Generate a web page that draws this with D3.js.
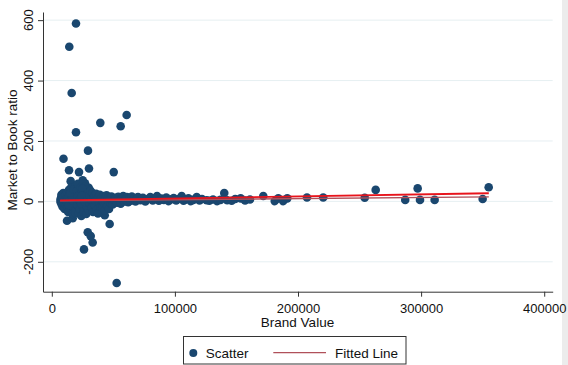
<!DOCTYPE html>
<html>
<head>
<meta charset="utf-8">
<script src="https://cdn.jsdelivr.net/npm/d3@7"></script>
<style>
  html, body { margin: 0; padding: 0; background: #fff; }
  svg { display: block; font-family: "Liberation Sans", Arial, Helvetica, sans-serif; }
</style>
</head>
<body>
<svg id="chart" width="568" height="365"></svg>
<script>
// ---------------- data ----------------
const brandValue = [
  // outliers
  19650, 14200, 16150, 19650, 39400, 55950, 60800, 29400, 9500, 14000, 22100, 30200, 50300, 15350, 25100,
  12350, 29200, 33200, 31600, 26150, 47000, 43000, 52700, 17000, 23500, 27000, 30000, 20000,
  // 7k-12k
  7000, 7200, 7500, 7800, 8000, 8200, 8500, 8800, 9000, 9300, 9600, 10000, 10400, 10800, 11200, 11600, 12000,
  // 12k-20k
  12500, 12800, 13000, 13300, 13600, 14000, 14300, 14600, 15000, 15300, 15600, 16000, 16400, 16800, 17200, 17600,
  18000, 18400, 18800, 19200, 19600, 20000, 12200, 13800, 15200, 16600, 17800, 19000,
  // 20k-30k
  20400, 20800, 21200, 21600, 22000, 22400, 22800, 23200, 23600, 24000, 24400, 24800, 25200, 25600, 26000, 26400,
  26800, 27200, 27600, 28000, 28400, 28800, 29200, 29600, 30000, 21000, 22600, 23800, 25000, 26600, 28200, 29400,
  24200, 27000,
  // 30k-40k
  30500, 31000, 31500, 32000, 32500, 33000, 33500, 34000, 34500, 35000, 35500, 36000, 36500, 37000, 37500, 38000,
  38500, 39000, 39500, 40000,
  // 40k-50k
  40500, 41000, 41500, 42000, 42500, 43000, 43500, 44000, 44500, 45000, 45500, 46000, 46500, 47000, 47500, 48000,
  48500, 49000, 49500, 50000,
  // 50k-70k
  51000, 52000, 53000, 54000, 55000, 56000, 57000, 58000, 59000, 60000, 61000, 62000, 63000, 64000, 65000, 66000,
  67000, 68000, 69000, 70000,
  // 70k-165k
  72000, 74000, 76000, 78000, 80000, 82000, 84000, 85500, 87000, 89000, 91000, 93000, 95000, 97000, 99000, 101000,
  103000, 105500, 107000, 109000, 111000, 113000, 115000, 117700, 120000, 122000, 125800, 128000, 131000, 134400,
  137000, 140100, 142500, 146100, 149000, 153400, 157000, 161000,
  // far tail
  171800, 181100, 184000, 188000, 191300, 207300, 220500, 254200, 263100, 287100, 297200, 299100, 311000, 350000, 354900
];
const mbRatio = [
  // outliers
  589, 512, 359, 229, 260, 249, 286, 168, 141, 103, 97, 109, 97, 67, 70,
  -64, -102, -136, -115, -159, -75, -46, -270, -56, 55, 60, 45, 40,
  // 7k-12k
  5, -3, 12, 22, -10, 2, 18, -18, 8, 28, -6, 14, -25, 3, 20, -12, 9,
  // 12k-20k
  30, -20, 6, -35, 15, 38, -8, 24, -28, 2, 45, -15, 10, -42, 32, 0,
  -22, 18, -5, 52, -30, 12, -2, -12, 28, 4, 40, -38,
  // 20k-30k
  35, -12, 58, 6, -40, 22, -25, 45, 0, -48, 30, 12, -18, 62, -35, 8,
  48, -8, 25, -42, 15, 38, -22, 4, -30, 15, 5, -6, 42, 20, -14, 28,
  18, -2,
  // 30k-40k
  20, -8, 35, 5, -20, 28, -35, 10, 18, -12, 2, 25, -28, 8, -40, 15,
  -5, 22, -18, 6,
  // 40k-50k
  12, -20, 3, 18, -8, -30, 10, -3, 20, -15, 5, 14, -25, 2, 10, -6,
  16, 0, -10, 8,
  // 50k-70k
  5, 12, -4, 15, 2, -8, 10, 18, 0, 6, 14, -3, 9, 2, 16, 5,
  11, 0, 8, 14,
  // 70k-165k
  4, 12, 0, 8, 14, 3, 10, 18, 2, 9, 5, 13, 1, 7, 11, 3,
  8, 18, 2, 6, 10, 1, 5, 14, 3, 8, 4, 2, 6, 1,
  5, 28, 4, 2, 8, 10, 3, 6,
  // far tail
  18, 1, 10, 1, 10, 13, 13, 12, 38, 5, 43, 5, 5, 8, 47
];

// fitted lines (endpoints)
const fitX = [6700, 355000];
const fitRed = [3.3, 27];
const fitMaroon = [2, 15];

const xTicks = [0, 100000, 200000, 300000, 400000];
const yTicks = [-200, 0, 200, 400, 600];

const xTitle = "Brand Value";
const yTitle = "Market to Book ratio";
const legendLabels = ["Scatter", "Fitted Line"];

// ---------------- chart ----------------
const svg = d3.select("#chart");
const navy = "#1a476f";

const x = d3.scaleLinear().domain([-7150, 406900]).range([43, 552.7]);
const y = d3.scaleLinear().domain([-299, 627]).range([291.7, 12]);

// right grey strip
svg.append("rect").attr("x", 562).attr("y", 0).attr("width", 6).attr("height", 365).attr("fill", "#ececec");

// gridlines
svg.append("g").selectAll("line").data(yTicks).join("line")
  .attr("x1", x.range()[0]).attr("x2", x.range()[1])
  .attr("y1", d => y(d)).attr("y2", d => y(d))
  .attr("stroke", "#e6eff2").attr("stroke-width", 1);

// points
const pts = brandValue.map((v, i) => ({ x: v, y: mbRatio[i] }));
svg.append("g").selectAll("circle").data(pts).join("circle")
  .attr("cx", d => x(d.x)).attr("cy", d => y(d.y)).attr("r", 4.3)
  .attr("fill", navy);

// fitted lines
const line = d3.line().x(d => x(d[0])).y(d => y(d[1]));
svg.append("path").datum(fitX.map((v, i) => [v, fitMaroon[i]]))
  .attr("d", line).attr("fill", "none").attr("stroke", "#b0505a").attr("stroke-width", 1.3);
svg.append("path").datum(fitX.map((v, i) => [v, fitRed[i]]))
  .attr("d", line).attr("fill", "none").attr("stroke", "#e8141c").attr("stroke-width", 1.8);

// x axis
const xAxis = svg.append("g").attr("transform", `translate(0,${y.range()[0]})`)
  .call(d3.axisBottom(x).tickValues(xTicks).tickFormat(d3.format("d")).tickSize(5).tickPadding(7).tickSizeOuter(0));
xAxis.select(".domain").attr("stroke", "#333");
xAxis.selectAll(".tick line").attr("stroke", "#333");
xAxis.selectAll("text").attr("font-size", 13).attr("fill", "#111")
  .attr("font-family", "'Liberation Sans', Arial, sans-serif");

// y axis
const yAxis = svg.append("g").attr("transform", `translate(${x.range()[0]},0)`)
  .call(d3.axisLeft(y).tickValues(yTicks).tickSize(5).tickSizeOuter(0).tickFormat(""));
yAxis.select(".domain").attr("stroke", "#333");
yAxis.selectAll(".tick line").attr("stroke", "#333");
svg.append("g").selectAll("text").data(yTicks).join("text")
  .attr("transform", d => `translate(32.7,${y(d)}) rotate(-90)`)
  .attr("text-anchor", "middle").attr("font-size", 13).attr("fill", "#111")
  .text(d => d);

// titles
svg.append("text").attr("x", 297.5).attr("y", 326.7).attr("text-anchor", "middle")
  .attr("font-size", 13.5).attr("fill", "#111").text(xTitle);
svg.append("text").attr("transform", "translate(17,150) rotate(-90)").attr("text-anchor", "middle")
  .attr("font-size", 13.5).attr("fill", "#111").text(yTitle);

// legend
const lg = svg.append("g");
lg.append("rect").attr("x", 183.5).attr("y", 336.5).attr("width", 222.5).attr("height", 27.5)
  .attr("fill", "#fff").attr("stroke", "#333").attr("stroke-width", 1);
lg.append("circle").attr("cx", 193.3).attr("cy", 353).attr("r", 4).attr("fill", navy);
lg.append("text").attr("x", 205.7).attr("y", 357.7).attr("font-size", 13.5).attr("fill", "#111").text(legendLabels[0]);
lg.append("line").attr("x1", 273.3).attr("x2", 326).attr("y1", 352.7).attr("y2", 352.7)
  .attr("stroke", "#b0505a").attr("stroke-width", 1.2);
lg.append("text").attr("x", 335).attr("y", 357.7).attr("font-size", 13.5).attr("fill", "#111").text(legendLabels[1]);
</script>
</body>
</html>
